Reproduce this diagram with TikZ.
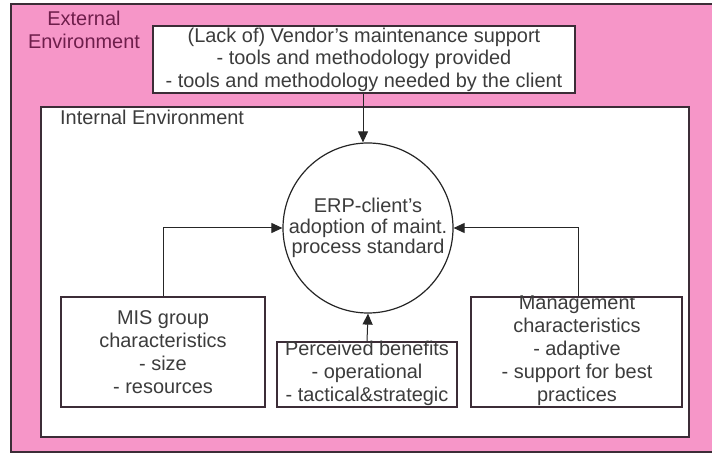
\documentclass[tikz,border=0pt]{standalone}
\usepackage{fontspec}
\setmainfont{Liberation Sans}
\usetikzlibrary{arrows.meta}
\definecolor{envpink}{RGB}{246,150,200}
\definecolor{edge}{RGB}{60,45,55}
\definecolor{txt}{RGB}{60,60,60}
\definecolor{exttxt}{RGB}{110,30,75}
\tikzset{
  box/.style={draw=edge, line width=1.2bp, fill=white, inner sep=0pt},
  lbl/.style={align=center, text=txt, font=\fontsize{20}{22.5}\selectfont, inner sep=0pt},
  link/.style={draw=black!85, line width=1bp},
  tip/.style={-{Triangle[length=11bp,width=10bp]}},
}
\begin{document}
\begin{tikzpicture}[x=1bp,y=-1bp]
\useasboundingbox (0,0) rectangle (712,456);
\fill[white] (0,0) rectangle (712,456);
% outer environment, open on the right
\fill[envpink] (11,4) rectangle (712,452);
\draw[draw=edge, line width=1.5bp] (712,4) -- (11,4) -- (11,452) -- (712,452);
\node[lbl, text=exttxt] (ext) at (84,30) {External\\Environment};
% inner environment
\draw[box, line width=1.5bp] (41,107) rectangle (689,437);
\node[lbl, anchor=base west] (int) at (60,125) {Internal Environment};
% vendor box
\node[box, minimum width=422bp, minimum height=67bp] (vendor) at (364,59.5) {};
\node[lbl] (vendortxt) at (vendor.center) {(Lack of) Vendor's maintenance support\\- tools and methodology provided\\- tools and methodology needed by the client};
% central process
\node[draw=black!85, line width=1.2bp, fill=white, circle, minimum size=170bp, inner sep=0pt] (erp) at (368,228) {};
\node[lbl, font=\fontsize{20}{20.5}\selectfont] (erptxt) at (368,228) {ERP-client's\\adoption of maint.\\process standard};
% factor boxes
\node[box, minimum width=204bp, minimum height=110bp] (mis) at (163,352) {};
\node[lbl, font=\fontsize{20}{23}\selectfont] (mistxt) at (mis.center) {MIS group\\characteristics\\- size\\- resources};
\node[box, minimum width=180bp, minimum height=65bp] (perc) at (367,374.5) {};
\node[lbl, font=\fontsize{20}{23}\selectfont] (perctxt) at (367,373) {Perceived benefits\\- operational\\- tactical\&strategic};
\node[box, minimum width=211bp, minimum height=110bp] (mgmt) at (576.5,352) {};
\node[lbl, font=\fontsize{20}{23}\selectfont] (mgmttxt) at (577,351) {Management\\characteristics\\- adaptive\\- support for best\\practices};
% influences on the adoption
\draw[link, tip] (vendor.south -| 363,0) -- (erp.north -| 363,0);
\draw[link, tip] (mis.north) |- (erp.west);
\draw[link, tip] (mgmt.north -| 578,0) |- (erp.east);
\draw[link, tip] (perc.north) -- (erp.south);
\end{tikzpicture}
\end{document}
